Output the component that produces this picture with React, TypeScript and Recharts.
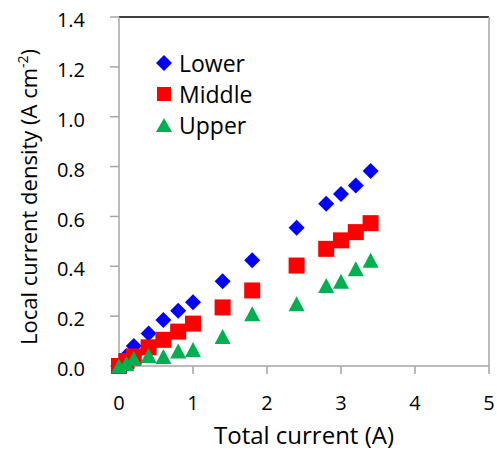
import React from "react";
import {
  ScatterChart,
  Scatter,
  XAxis,
  YAxis,
  ReferenceLine,
  Legend,
} from "recharts";

const TOTAL_CURRENT = [0, 0.1, 0.2, 0.4, 0.6, 0.8, 1.0, 1.4, 1.8, 2.4, 2.8, 3.0, 3.2, 3.4];
const LOWER = [0.0, 0.04, 0.08, 0.13, 0.185, 0.222, 0.256, 0.34, 0.424, 0.555, 0.651, 0.69, 0.724, 0.782];
const MIDDLE = [0.0, 0.02, 0.038, 0.075, 0.105, 0.138, 0.17, 0.235, 0.303, 0.403, 0.47, 0.504, 0.537, 0.573];
const UPPER = [0.0, 0.01, 0.03, 0.042, 0.038, 0.06, 0.066, 0.118, 0.21, 0.25, 0.323, 0.34, 0.39, 0.424];

const X_TICKS = [0, 1, 2, 3, 4, 5];
const Y_TICKS = [0, 0.2, 0.4, 0.6, 0.8, 1.0, 1.2, 1.4];

const toPoints = (ys: number[]) => TOTAL_CURRENT.map((x, i) => ({ x, y: ys[i] }));

const FONT = "'Open Sans', sans-serif";
const AXIS_GREY = "#a6a6a6";
const BLUE = "#0000ff";
const RED = "#ff0000";
const GREEN = "#00b050";

const Diamond = (props: any) => {
  const { cx, cy } = props;
  const r = 8;
  return <polygon points={`${cx},${cy - r} ${cx + r},${cy} ${cx},${cy + r} ${cx - r},${cy}`} fill={BLUE} />;
};

const Square = (props: any) => {
  const { cx, cy } = props;
  const s = 16;
  return <rect x={cx - s / 2} y={cy - s / 2} width={s} height={s} fill={RED} />;
};

const Triangle = (props: any) => {
  const { cx, cy } = props;
  const w = 16;
  const h = 15;
  return (
    <polygon
      points={`${cx},${cy - h / 2} ${cx + w / 2},${cy + h / 2} ${cx - w / 2},${cy + h / 2}`}
      fill={GREEN}
    />
  );
};

const legendItems = [
  { name: "Lower", icon: <polygon points="8,0 16,8 8,16 0,8" fill={BLUE} /> },
  { name: "Middle", icon: <rect x="1" y="1" width="14" height="14" fill={RED} /> },
  { name: "Upper", icon: <polygon points="8,1 16,15 0,15" fill={GREEN} /> },
];

const ChartLegend = () => (
  <div style={{ fontFamily: FONT, fontSize: 23, color: "#000" }}>
    {legendItems.map((it) => (
      <div key={it.name} style={{ display: "flex", alignItems: "center", height: 31 }}>
        <svg width={16} height={16} style={{ marginRight: 7 }}>
          {it.icon}
        </svg>
        <span>{it.name}</span>
      </div>
    ))}
  </div>
);

const YTitle = () => (
  <text
    transform="translate(37,197) rotate(-90)"
    textAnchor="middle"
    fontFamily={FONT}
    fontSize={22}
    fill="#000"
  >
    Local current density (A cm
    <tspan fontSize={14} dy={-9}>-2</tspan>
    <tspan dy={9}>)</tspan>
  </text>
);

export default function App() {
  return (
    <div style={{ position: "absolute", left: 0, top: 0, width: 497, height: 452, background: "#fff" }}>
      <ScatterChart
        width={497}
        height={452}
        margin={{ top: 17, right: 8, left: 0, bottom: 0 }}
      >
        <XAxis
          type="number"
          dataKey="x"
          domain={[0, 5]}
          ticks={X_TICKS}
          height={86}
          tickSize={8}
          tickMargin={22}
          stroke={AXIS_GREY}
          strokeWidth={1.5}
          tick={{ fill: "#000", fontFamily: FONT, fontSize: 20 }}
          label={{
            value: "Total current (A)",
            position: "insideBottom",
            offset: 8,
            fill: "#000",
            fontFamily: FONT,
            fontSize: 24,
          }}
        />
        <YAxis
          type="number"
          dataKey="y"
          domain={[0, 1.4]}
          ticks={Y_TICKS}
          width={119}
          tickSize={9}
          tickMargin={25}
          stroke={AXIS_GREY}
          strokeWidth={1.5}
          tickFormatter={(v: number) => v.toFixed(1)}
          tick={{ fill: "#000", fontFamily: FONT, fontSize: 20, dy: 3 }}
          label={{ content: () => <YTitle /> }}
        />
        <ReferenceLine y={1.4} stroke="#000" strokeWidth={1.5} />
        <ReferenceLine x={5} stroke={AXIS_GREY} strokeWidth={1.5} />
        <Legend
          layout="horizontal"
          align="center"
          verticalAlign="middle"
          content={() => <ChartLegend />}
          wrapperStyle={{ position: "absolute", left: 156, top: 47, width: "auto", height: "auto" }}
        />
        <Scatter name="Lower" data={toPoints(LOWER)} shape={Diamond} isAnimationActive={false} />
        <Scatter name="Middle" data={toPoints(MIDDLE)} shape={Square} isAnimationActive={false} />
        <Scatter name="Upper" data={toPoints(UPPER)} shape={Triangle} isAnimationActive={false} />
      </ScatterChart>
    </div>
  );
}
